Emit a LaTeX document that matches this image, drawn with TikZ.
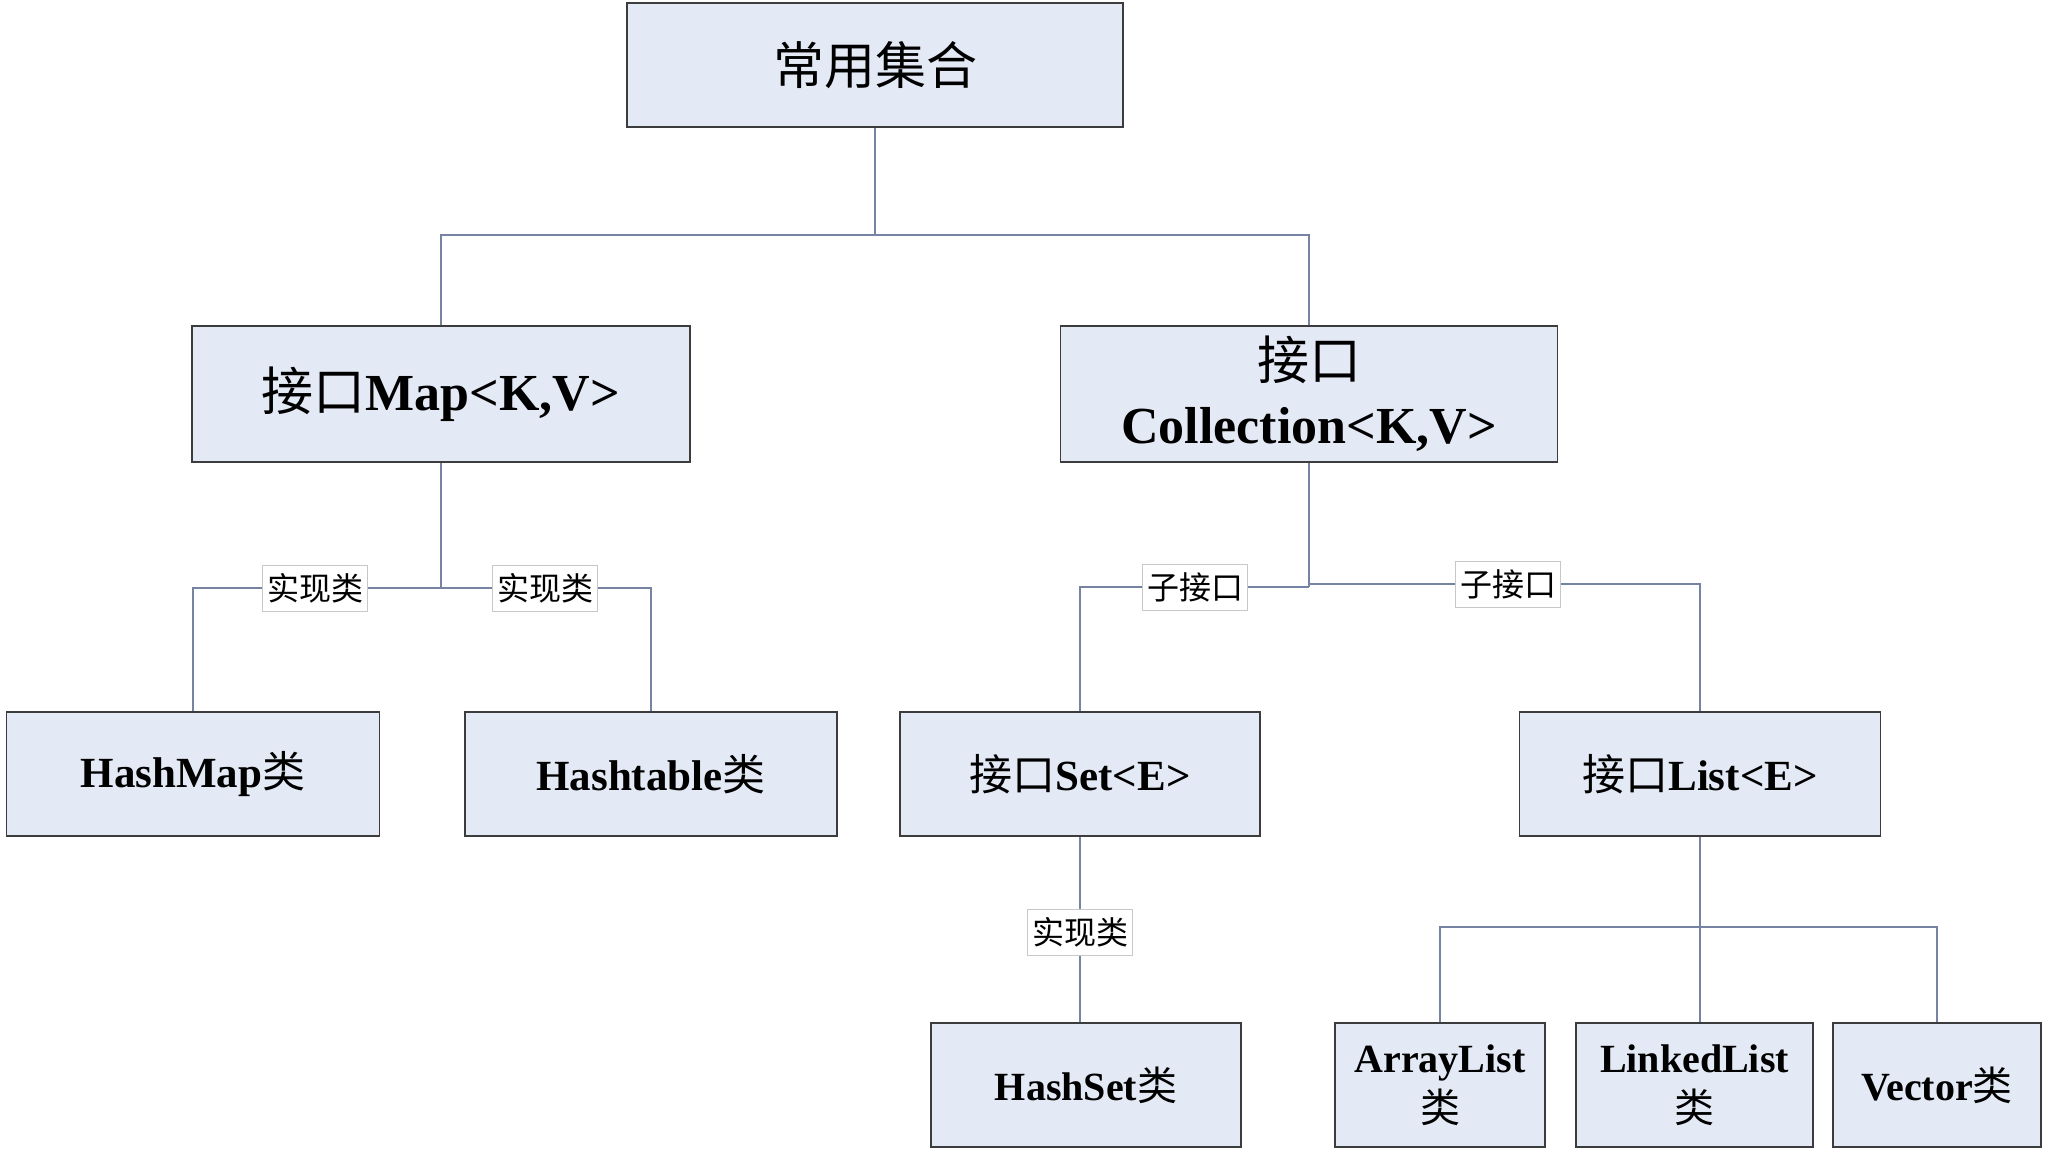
\documentclass[tikz,border=0pt]{standalone}
\usepackage{fontspec}
\setmainfont{Liberation Serif}
\newfontfamily\cjk{Noto Sans CJK SC}
\newcommand{\zhs}[1]{{\cjk\mdseries #1}}
\definecolor{boxfill}{HTML}{E4EAF5}
\definecolor{boxline}{HTML}{3C3C3C}
\definecolor{connline}{HTML}{7683A3}
\definecolor{lblline}{HTML}{C8C8C8}
\begin{document}
\begin{tikzpicture}[x=1pt,y=-1pt,
  box/.style={draw=boxline, line width=1.4pt, fill=boxfill, inner sep=0pt, align=center},
  conn/.style={draw=connline, line width=1.5pt},
  lbl/.style={draw=lblline, line width=0.8pt, fill=white, inner sep=0pt,
    minimum width=105pt, minimum height=46pt, font=\fontsize{32}{34}\cjk},
  fbig/.style={font=\fontsize{52}{64}\selectfont\bfseries},
  fmid/.style={font=\fontsize{43}{50}\selectfont\bfseries},
  fsml/.style={font=\fontsize{40}{50}\selectfont\bfseries}]
\useasboundingbox[fill=white] (0,0) rectangle (2048,1150);

% nodes
\node[box, minimum width=496pt, minimum height=124pt, font=\fontsize{51}{60}\cjk] (top) at (875,65) {常用集合};
\node[box, fbig, minimum width=498pt, minimum height=136pt] (map) at (441,394) {\zhs{接口}Map<K,V>};
\node[box, fbig, minimum width=497pt, minimum height=136pt] (col) at (1309,394) {\zhs{接口}\\Collection<K,V>};
\node[box, fmid, minimum width=373pt, minimum height=124pt] (hm) at (193,774) {HashMap\zhs{类}};
\node[box, fmid, minimum width=372pt, minimum height=124pt] (ht) at (651,774) {Hashtable\zhs{类}};
\node[box, fmid, minimum width=360pt, minimum height=124pt] (set) at (1080,774) {\zhs{接口}Set<E>};
\node[box, fmid, minimum width=361pt, minimum height=124pt] (list) at (1700,774) {\zhs{接口}List<E>};
\node[box, fsml, minimum width=310pt, minimum height=124pt] (hs) at (1086,1085) {HashSet\zhs{类}};
\node[box, fsml, minimum width=210pt, minimum height=124pt] (al) at (1440,1085) {ArrayList\\\zhs{类}};
\node[box, fsml, minimum width=237pt, minimum height=124pt] (ll) at (1694.5,1085) {LinkedList\\\zhs{类}};
\node[box, fsml, minimum width=208pt, minimum height=124pt] (vec) at (1937,1085) {Vector\zhs{类}};

% junction coordinates
\coordinate (j0) at (875,235);
\coordinate (jm) at (441,588);
\coordinate (jc) at (1309,587);
\coordinate (jc2) at (1309,584);
\coordinate (jl) at (1700,927);

% connectors
\draw[conn] (top.south) -- (j0);
\draw[conn] (j0) -| (map.north);
\draw[conn] (j0) -| (col.north);
\draw[conn] (map.south) -- (jm);
\draw[conn] (jm) -| (hm.north);
\draw[conn] (jm) -| (ht.north);
\draw[conn] (col.south) -- (jc);
\draw[conn] (jc) -| (set.north);
\draw[conn] (jc2) -| (list.north);
\draw[conn] (set.south) -- (hs.north -| set.south);
\draw[conn] (list.south) -- (jl);
\draw[conn] (jl) -- (ll.north -| jl);
\draw[conn] (jl) -| (al.north);
\draw[conn] (jl) -| (vec.north);

% labels
\node[lbl] (l1) at (315,588) {实现类};
\node[lbl] (l2) at (545,588) {实现类};
\node[lbl] (l3) at (1195,587) {子接口};
\node[lbl] (l4) at (1508,584) {子接口};
\node[lbl] (l5) at (1080,932) {实现类};
\end{tikzpicture}
\end{document}
